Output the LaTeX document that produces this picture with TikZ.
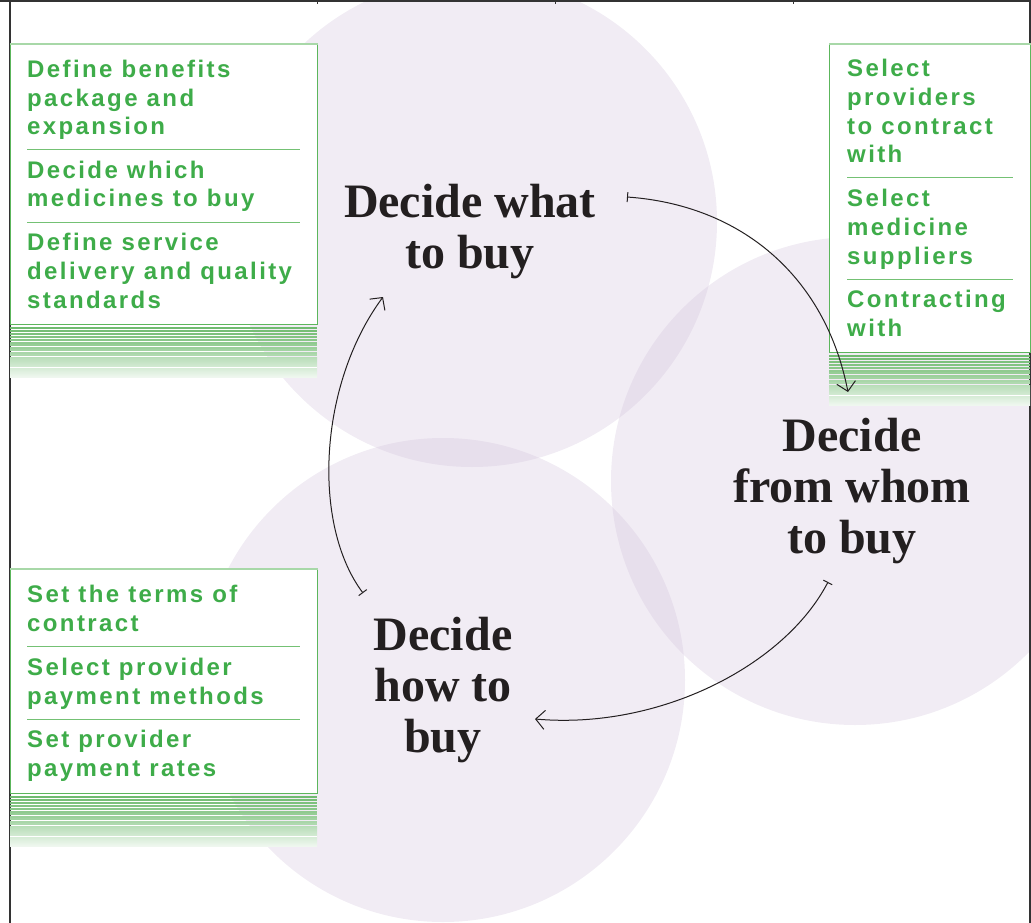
\documentclass[tikz,border=0pt]{standalone}
\usepackage{fontspec}
\usepackage{xcolor}
\usepackage{tikz}
\usetikzlibrary{arrows.meta, positioning, calc}
\newfontfamily\taskfamily[LetterSpace=10]{Liberation Sans}
\newfontfamily\stagefamily{Liberation Serif}
\definecolor{taskgreen}{RGB}{62,172,73}
\definecolor{edgegreen}{RGB}{92,182,92}
\definecolor{rimgreen}{RGB}{168,216,168}
\definecolor{stripegreen}{RGB}{98,180,98}
\definecolor{lilac}{RGB}{208,192,218}
\definecolor{ink}{RGB}{35,31,32}
\definecolor{framegray}{RGB}{51,51,51}
\tikzstyle{lobe} = [fill=lilac, fill opacity=0.3]
\tikzstyle{panel} = [rectangle, anchor=north west, inner sep=0pt, draw=edgegreen, line width=1pt, fill=white]
\tikzstyle{task} = [anchor=base west, align=left, inner sep=0pt, text=taskgreen, font=\taskfamily\bfseries\fontsize{24}{28.7}\selectfont]
\tikzstyle{divider} = [draw=edgegreen!85, line width=1pt]
\tikzstyle{stage} = [anchor=base, align=center, inner sep=0pt, text=ink, font=\stagefamily\bfseries\fontsize{48}{51}\selectfont]
\tikzstyle{arrow} = [line width=1pt, draw=ink, {Bar[width=10pt]}-{Straight Barb[length=9pt,width=19pt]}]

\begin{document}
\begin{tikzpicture}[x=1pt, y=-1pt]
\useasboundingbox (0,0) rectangle (1031,923);

% circles
\fill[lobe] (472,222) circle (245);
\fill[lobe] (855,481) circle (244);
\fill[lobe] (443,680) circle (242);

% frame
\draw[framegray, line width=1.2pt] (0,1) -- (1031,1);
\draw[framegray, line width=1.5pt] (10,1) -- (10,923);
\draw[framegray, line width=1.5pt] (1030,1) -- (1030,923);
\foreach \t in {317,555,793}
  \draw[framegray, line width=0.6pt] (\t,1) -- (\t,4);

% panels
\node (whatbox) [panel, minimum width=307, minimum height=280] at (10,44) {};
\node (whombox) [panel, minimum width=201, minimum height=308] at (829,44) {};
\node (howbox) [panel, minimum width=307, minimum height=224] at (10,569) {};
\foreach \pnl in {whatbox, whombox, howbox}
  \draw[rimgreen, line width=2.5pt] (\pnl.north west) -- (\pnl.north east);

% stripes under the panels
\foreach \l/\r/\b in {10/317/324, 829/1030/352, 10/317/793} {
  \foreach \d [count=\i] in {4,7,10,13,16,19,21,24,26,29,31} {
    \pgfmathsetmacro\tint{95-4*\i}
    \draw[stripegreen!\tint, line width=1.3pt] (\l,\b+\d) -- (\r,\b+\d);
  }
  \shade[top color=stripegreen!45, bottom color=stripegreen!10] (\l,\b+33) rectangle (\r,\b+53);
  \draw[white, line width=1pt] (\l,\b+43) -- (\r,\b+43);
}

% what (nodes sit on the baseline of their last line)
\node (what1) [task] at (27,135) {Define benefits\\package and\\expansion};
\node (what2) [task] at (27,207) {Decide which\\medicines to buy};
\node (what3) [task] at (27,308) {Define service\\delivery and quality\\standards};
\draw[divider] (27,150) -- (300,150);
\draw[divider] (27,222) -- (300,222);

% from whom
\node (whom1) [task] at (847,163) {Select\\providers\\to contract\\with};
\node (whom2) [task] at (847,264) {Select\\medicine\\suppliers};
\node (whom3) [task] at (847,336) {Contracting\\with};
\draw[divider] (847,178) -- (1013,178);
\draw[divider] (847,279) -- (1013,279);

% how
\node (how1) [task] at (27,631) {Set the terms of\\contract};
\node (how2) [task] at (27,704) {Select provider\\payment methods};
\node (how3) [task] at (27,776) {Set provider\\payment rates};
\draw[divider] (27,646) -- (300,646);
\draw[divider] (27,719) -- (300,719);

% stages
\node (what) [stage] at (470,268) {Decide what\\to buy};
\node (whom) [stage] at (852,553) {Decide\\from whom\\to buy};
\node (how) [stage] at (443,752) {Decide\\how to\\buy};

\coordinate (whatout) at (627,197);
\coordinate (whomin) at (848,392);
\coordinate (whomout) at (828,582);
\coordinate (howin) at (535,719);
\coordinate (howout) at (363,593);
\coordinate (whatin) at (383,297);

\draw[arrow] (whatout) .. controls (740,205) and (825,275) .. (whomin);
\draw[arrow] (whomout) .. controls (785,665) and (660,730) .. (howin);
\draw[arrow] (howout) .. controls (312,525) and (318,385) .. (whatin);

\end{tikzpicture}
\end{document}
